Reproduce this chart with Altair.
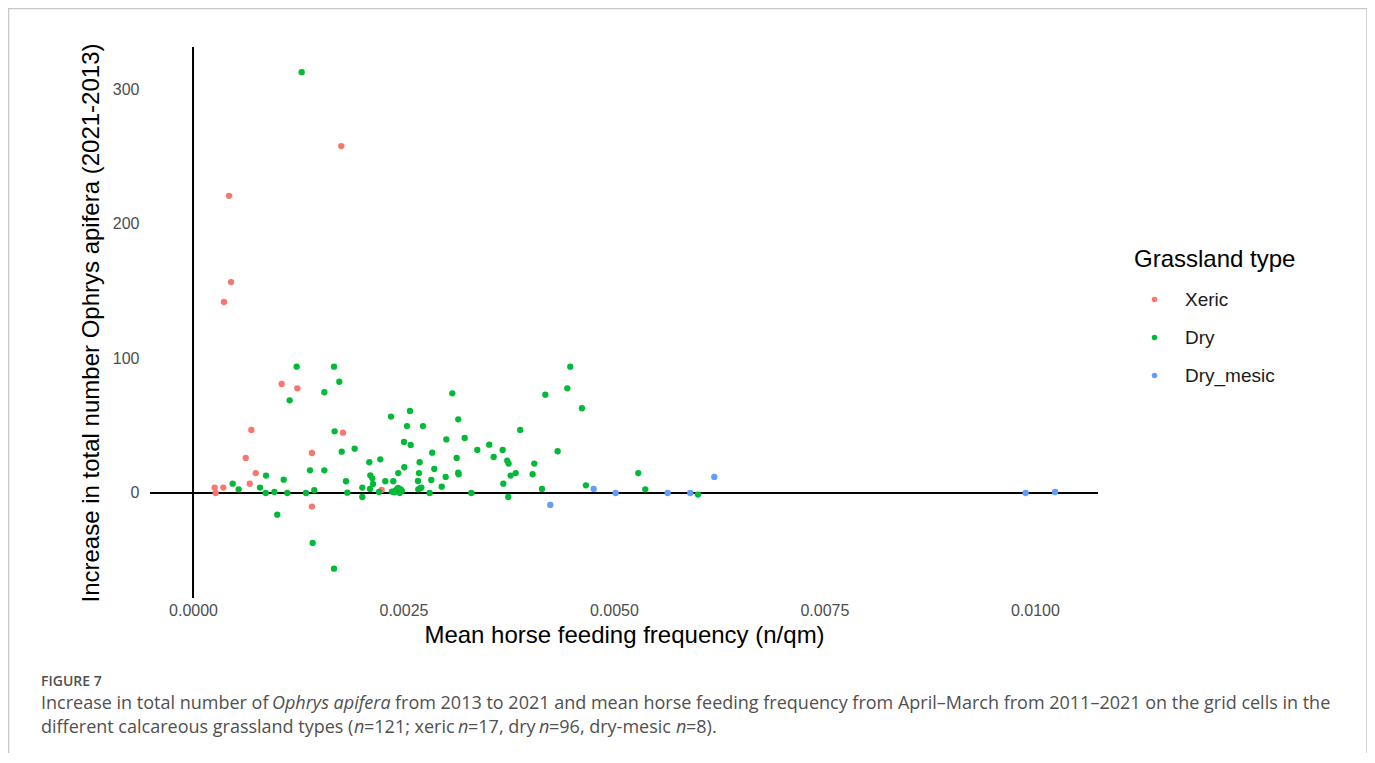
import altair as alt
import pandas as pd

# ---------------- data ----------------
types = ["Xeric", "Dry", "Dry_mesic"]
type_colors = ["#F8766D", "#00BA38", "#619CFF"]

xeric_freq = [0.001761, 0.000428, 0.000451, 0.000368, 0.001053, 0.001239, 0.000693,
              0.001413, 0.000626, 0.000745, 0.000257, 0.000360, 0.000269, 0.000673,
              0.001413, 0.001781, 0.002241]
xeric_inc = [257.6, 220.7, 156.6, 141.8, 80.9, 77.7, 46.8,
             29.7, 26.0, 14.8, 4.0, 4.0, 0.0, 6.9,
             -10.1, 44.8, 2.2]

dry_freq = [0.001291,
            0.001231, 0.001675, 0.001738, 0.001560, 0.001148, 0.001682, 0.001766, 0.000867,
            0.001077, 0.001390, 0.001560, 0.000471, 0.000542, 0.000796, 0.000863, 0.000966,
            0.001120, 0.001342, 0.001441, 0.001001, 0.001421, 0.001675,
            0.003080, 0.002577, 0.002352, 0.003151, 0.002542, 0.002732, 0.003009, 0.003227,
            0.002506, 0.002585, 0.001920, 0.002842, 0.003132, 0.002094, 0.002225, 0.002692,
            0.002510, 0.002866, 0.003151, 0.003155, 0.002438, 0.002684, 0.002106, 0.002130,
            0.003001, 0.002830, 0.001817, 0.002284, 0.002379, 0.002672, 0.002138, 0.002011,
            0.002102, 0.002712, 0.002954, 0.002676, 0.002435, 0.002467, 0.002363, 0.002403,
            0.002455, 0.002209, 0.001833, 0.002811, 0.002011,
            0.004481, 0.004446, 0.004185, 0.004620, 0.003887, 0.003377, 0.003519, 0.003678,
            0.003571, 0.004331, 0.003733, 0.003749, 0.004054, 0.004034, 0.003833, 0.003773,
            0.003686, 0.003306, 0.004145, 0.003745, 0.004667,
            0.005289, 0.005372, 0.005998,
            0.002420, 0.002480, 0.002700, 0.002390]
dry_inc = [312.5,
           93.8, 93.8, 82.6, 74.8, 68.8, 45.8, 30.7, 12.9,
           9.9, 16.8, 16.8, 6.9, 2.7, 4.0, 0.0, 0.7,
           0.0, 0.0, 2.0, -16.1, -37.1, -56.2,
           74.0, 60.9, 56.7, 54.7, 49.7, 49.7, 39.8, 40.8,
           37.9, 35.6, 32.9, 29.9, 26.0, 22.8, 25.0, 22.8,
           19.1, 17.8, 15.1, 13.9, 14.8, 14.8, 13.1, 10.9,
           11.9, 9.7, 8.7, 8.7, 8.7, 8.9, 6.7, 4.0,
           3.0, 4.0, 4.7, 2.7, 3.7, 2.7, 1.0, 1.7,
           0.0, 0.7, 0.2, 0.0, -3.0,
           93.8, 77.7, 73.0, 62.9, 46.8, 31.9, 35.9, 31.9,
           26.7, 31.0, 24.0, 21.8, 21.8, 13.9, 14.8, 12.9,
           6.9, 0.0, 3.0, -3.0, 5.7,
           14.8, 2.7, -1.2,
           2.5, 1.5, 3.5, 0.5]

mesic_freq = [0.004759, 0.004244, 0.005020, 0.005638, 0.005907, 0.006192, 0.009890, 0.010240]
mesic_inc = [3.0, -8.9, 0.0, 0.0, 0.0, 11.9, 0.0, 0.7]

x_ticks = [0.0, 0.0025, 0.005, 0.0075, 0.01]
y_ticks = [0, 100, 200, 300]

rows = []
for t, fx, fy in [("Xeric", xeric_freq, xeric_inc),
                  ("Dry", dry_freq, dry_inc),
                  ("Dry_mesic", mesic_freq, mesic_inc)]:
    for a, b in zip(fx, fy):
        rows.append({"freq": a, "inc": b, "type": t})
df = pd.DataFrame(rows)
zero_df = pd.DataFrame({"freq": [0.0], "inc": [0.0]})

# ---------------- layout ----------------
W, H = 948, 551
FONT = "Liberation Sans"
CAP_FONT = "Open Sans"
CAP_COLOR = "#505050"

xscale = alt.Scale(domain=[-0.000511, 0.01075], nice=False, zero=False)
yscale = alt.Scale(domain=[-78.0, 331.2], nice=False, zero=False)
xaxis = alt.Axis(values=x_ticks, format=".4f", title="Mean horse feeding frequency (n/qm)",
                 labelPadding=4, titlePadding=5)
yaxis = alt.Axis(values=y_ticks, format="d",
                 title="Increase in total number Ophrys apifera (2021-2013)",
                 labelPadding=11, titlePadding=9)

x_enc = alt.X("freq:Q", scale=xscale, axis=xaxis)
y_enc = alt.Y("inc:Q", scale=yscale, axis=yaxis)

vline = alt.Chart(zero_df).mark_rule(color="black", strokeWidth=2).encode(x=x_enc)
hline = alt.Chart(zero_df).mark_rule(color="black", strokeWidth=2).encode(y=y_enc)

points = alt.Chart(df).mark_circle(size=40, opacity=1).encode(
    x=x_enc,
    y=y_enc,
    color=alt.Color("type:N", sort=types,
                    scale=alt.Scale(domain=types, range=type_colors),
                    legend=alt.Legend(title="Grassland type", orient="none",
                                      legendX=984, legendY=201, padding=0,
                                      titleFontSize=24, titleFont=FONT, titleFontWeight="normal",
                                      titleColor="black", titlePadding=18,
                                      labelFontSize=19, labelFont=FONT, labelColor="#1a1a1a",
                                      symbolType="circle", symbolSize=30, symbolStrokeWidth=0,
                                      symbolOpacity=1,
                                      rowPadding=18, symbolOffset=11, labelOffset=21)),
)


def txt(s, px, py, size=18, style="normal", weight="normal", color=CAP_COLOR, font=CAP_FONT):
    return alt.Chart(pd.DataFrame({"t": [s]})).mark_text(
        align="left", baseline="alphabetic", fontSize=size, font=font,
        fontStyle=style, fontWeight=weight, color=color
    ).encode(text="t:N", x=alt.value(px - 150), y=alt.value(py - 47))


frame = alt.Chart(pd.DataFrame({"a": [0]})).mark_rect(
    fillOpacity=0, stroke="#c8c8c8", strokeWidth=1.5
).encode(x=alt.value(-141.5), x2=alt.value(1217), y=alt.value(-38.5), y2=alt.value(760))

caption = [
    txt("FIGURE 7", 41, 686, size=14, weight=600),
    txt("Increase in total number of", 41, 709),
    txt("Ophrys apifera", 272, 709, style="italic"),
    txt("from 2013 to 2021 and mean horse feeding frequency from April\u2013March from 2011\u20132021 on the grid cells in the", 395, 709),
    txt("different calcareous grassland types (", 41, 733),
    txt("n", 354, 733, style="italic"),
    txt("=121; xeric", 364, 733),
    txt("n", 458, 733, style="italic"),
    txt("=17, dry", 468, 733),
    txt("n", 539, 733, style="italic"),
    txt("=96, dry-mesic", 549, 733),
    txt("n", 676, 733, style="italic"),
    txt("=8).", 686, 733),
]

chart = alt.layer(frame, vline, hline, points, *caption).properties(
    width=W, height=H,
    padding={"left": 142, "top": 39, "right": 269, "bottom": 155},
    autosize=alt.AutoSizeParams(type="none"),
    background="white",
).configure_view(stroke=None).configure_axis(
    grid=False, ticks=False, domain=False,
    labelFont=FONT, labelFontSize=16, labelColor="#4D4D4D",
    titleFont=FONT, titleFontSize=24, titleFontWeight="normal", titleColor="black",
)

chart.save("out.html", embed_options={"renderer": "svg", "actions": False})
